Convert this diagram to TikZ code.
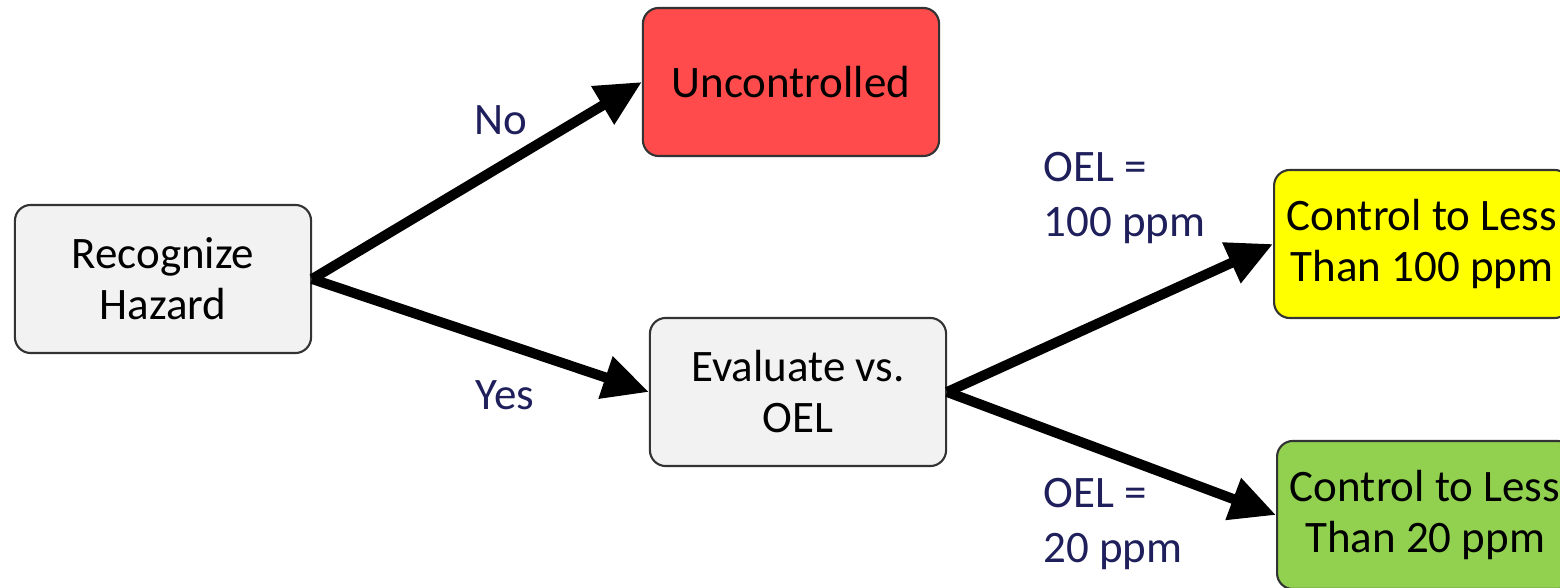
\documentclass[tikz,border=0pt]{standalone}
\usepackage{fontspec}
\setmainfont{Carlito}
\usetikzlibrary{arrows.meta}
\definecolor{lab}{HTML}{1F1F5C}
\definecolor{boxgray}{HTML}{F2F2F2}
\definecolor{boxred}{HTML}{FF4B4B}
\definecolor{boxyellow}{HTML}{FFFF00}
\definecolor{boxgreen}{HTML}{92D050}
\definecolor{edge}{HTML}{333333}
\begin{document}
\begin{tikzpicture}[x=0.01cm,y=-0.01cm,
  box/.style={draw=edge, line width=0.6pt, rounded corners=4.5pt, minimum width=2.96cm, minimum height=1.48cm, align=center, font=\fontsize{12.8}{14.5}\selectfont, text=black},
  lbl/.style={text=lab, font=\fontsize{12.8}{15.6}\selectfont, align=left},
  arr/.style={line width=2.85pt, -{Triangle[length=13pt,width=12pt]}}]
\useasboundingbox (0,0) rectangle (1560,588);
\clip (0,0) rectangle (1560,588);
\node[box, fill=boxgray] (rec) at (163,279) {Recognize\\Hazard};
\node[box, fill=boxred] (unc) at (791,82) {Uncontrolled};
\node[box, fill=boxgray] (eval) at (798,392) {Evaluate vs.\\OEL};
\node[box, fill=boxyellow, anchor=west] (c100) at (1273,244) {Control to Less\\Than 100 ppm};
\node[box, fill=boxgreen, anchor=west] (c20) at (1276,515) {Control to Less\\Than 20 ppm};
\draw[arr] (rec.east) -- (unc.west);
\draw[arr] (rec.east) -- (eval.west);
\draw[arr] (eval.east) -- (c100.west);
\draw[arr] (eval.east) -- (c20.west);
\node[lbl] (no) at (501,120) {No};
\node[lbl] (yes) at (505,395) {Yes};
\node[lbl, anchor=west] (oel1) at (1031,198) {OEL =\\100 ppm};
\node[lbl, anchor=west] (oel2) at (1031,524) {OEL =\\20 ppm};
\end{tikzpicture}
\end{document}
